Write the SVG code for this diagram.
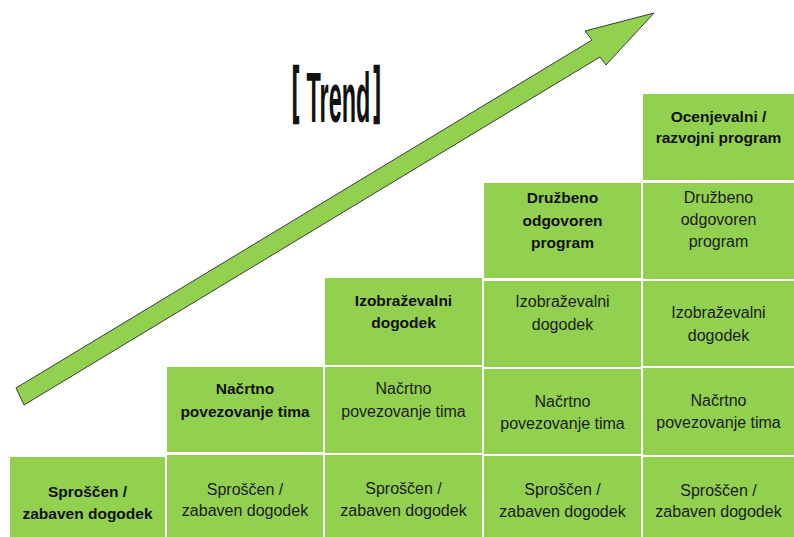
<svg xmlns="http://www.w3.org/2000/svg" width="794" height="537" viewBox="0 0 794 537">
  <style>
    .cell { fill: #92D050; }
    .lbl { font-family: "Liberation Sans", Arial, sans-serif; font-size: 16px; fill: #1c1c1c; text-anchor: middle; }
    .hd { font-weight: bold; font-size: 15.5px; fill: #111; }
    .title { font-family: "Liberation Sans", Arial, sans-serif; font-weight: bold; fill: #111; }
    .brk { stroke: #111; stroke-width: 2.5; stroke-linejoin: miter; }
  </style>
  <rect width="794" height="537" fill="#ffffff"/>

  <!-- rising trend arrow -->
  <g id="trend-arrow">
    <polygon points="16,388 592,40 585,31 654,13 606,65 600,57 24,405" fill="#92D050" stroke="#3c3c3c" stroke-width="1" stroke-linejoin="miter"/>
  </g>

  <!-- title -->
  <g id="title">
    <text class="title" transform="translate(292,0) scale(0.33,1)"><tspan class="brk" x="1" y="110" font-size="61">[</tspan><tspan x="44" y="122" font-size="71">Trend</tspan><tspan class="brk" x="248" y="110" font-size="61">]</tspan></text>
  </g>

  <!-- column 1 -->
  <g id="c1-sproscen">
    <rect class="cell" x="10" y="457" width="155" height="80"/>
    <text class="lbl hd" x="87.5" y="497">Sproščen /</text>
    <text class="lbl hd" x="87.5" y="519">zabaven dogodek</text>
  </g>

  <!-- column 2 -->
  <g id="c2-nacrtno">
    <rect class="cell" x="167" y="367" width="156" height="85"/>
    <text class="lbl hd" x="245" y="394">Načrtno</text>
    <text class="lbl hd" x="245" y="417">povezovanje tima</text>
  </g>
  <g id="c2-sproscen">
    <rect class="cell" x="167" y="455" width="156" height="82"/>
    <text class="lbl" x="245" y="495">Sproščen /</text>
    <text class="lbl" x="245" y="516">zabaven dogodek</text>
  </g>

  <!-- column 3 -->
  <g id="c3-izobrazevalni">
    <rect class="cell" x="325" y="278" width="157" height="87"/>
    <text class="lbl hd" x="403.5" y="306">Izobraževalni</text>
    <text class="lbl hd" x="403.5" y="328">dogodek</text>
  </g>
  <g id="c3-nacrtno">
    <rect class="cell" x="325" y="367" width="157" height="86"/>
    <text class="lbl" x="403.5" y="394">Načrtno</text>
    <text class="lbl" x="403.5" y="417">povezovanje tima</text>
  </g>
  <g id="c3-sproscen">
    <rect class="cell" x="325" y="455" width="157" height="82"/>
    <text class="lbl" x="403.5" y="494">Sproščen /</text>
    <text class="lbl" x="403.5" y="516">zabaven dogodek</text>
  </g>

  <!-- column 4 -->
  <g id="c4-druzbeno">
    <rect class="cell" x="484" y="183" width="157" height="95"/>
    <text class="lbl hd" x="562.5" y="203">Družbeno</text>
    <text class="lbl hd" x="562.5" y="226">odgovoren</text>
    <text class="lbl hd" x="562.5" y="248">program</text>
  </g>
  <g id="c4-izobrazevalni">
    <rect class="cell" x="484" y="281" width="157" height="86"/>
    <text class="lbl" x="562.5" y="307">Izobraževalni</text>
    <text class="lbl" x="562.5" y="330">dogodek</text>
  </g>
  <g id="c4-nacrtno">
    <rect class="cell" x="484" y="369" width="157" height="85"/>
    <text class="lbl" x="562.5" y="407">Načrtno</text>
    <text class="lbl" x="562.5" y="429">povezovanje tima</text>
  </g>
  <g id="c4-sproscen">
    <rect class="cell" x="484" y="456" width="157" height="81"/>
    <text class="lbl" x="562.5" y="495">Sproščen /</text>
    <text class="lbl" x="562.5" y="517">zabaven dogodek</text>
  </g>

  <!-- column 5 -->
  <g id="c5-ocenjevalni">
    <rect class="cell" x="643" y="94" width="151" height="86"/>
    <text class="lbl hd" x="718.5" y="122">Ocenjevalni /</text>
    <text class="lbl hd" x="718.5" y="143">razvojni program</text>
  </g>
  <g id="c5-druzbeno">
    <rect class="cell" x="643" y="183" width="151" height="96"/>
    <text class="lbl" x="718.5" y="203">Družbeno</text>
    <text class="lbl" x="718.5" y="225">odgovoren</text>
    <text class="lbl" x="718.5" y="247">program</text>
  </g>
  <g id="c5-izobrazevalni">
    <rect class="cell" x="643" y="281" width="151" height="85"/>
    <text class="lbl" x="718.5" y="318">Izobraževalni</text>
    <text class="lbl" x="718.5" y="341">dogodek</text>
  </g>
  <g id="c5-nacrtno">
    <rect class="cell" x="643" y="368" width="151" height="87"/>
    <text class="lbl" x="718.5" y="406">Načrtno</text>
    <text class="lbl" x="718.5" y="428">povezovanje tima</text>
  </g>
  <g id="c5-sproscen">
    <rect class="cell" x="643" y="457" width="151" height="80"/>
    <text class="lbl" x="718.5" y="496">Sproščen /</text>
    <text class="lbl" x="718.5" y="517">zabaven dogodek</text>
  </g>
</svg>
